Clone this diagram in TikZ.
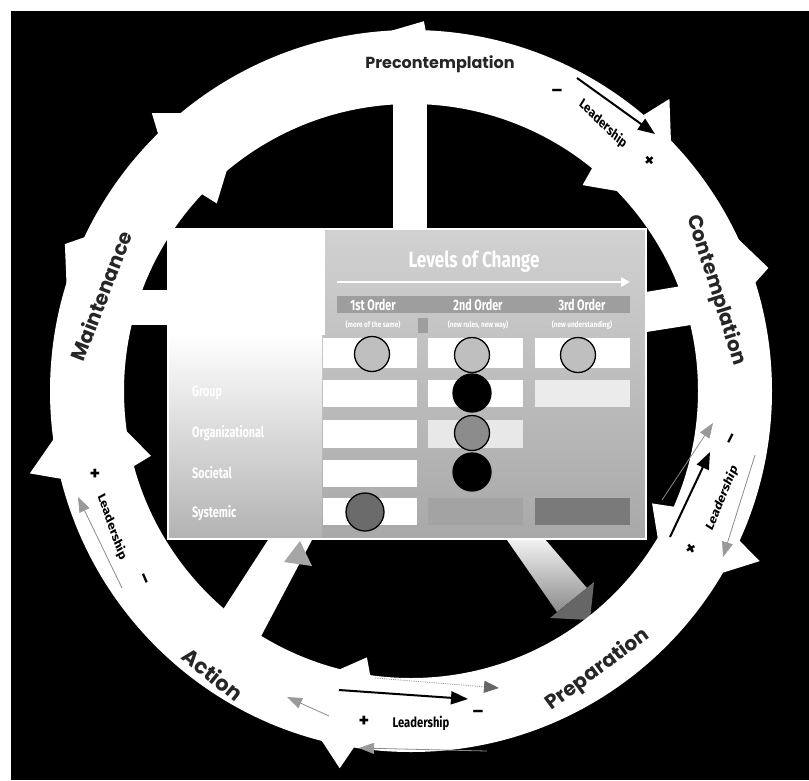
\documentclass[tikz,border=0pt]{standalone}
\usepackage{fontspec}
\setmainfont{Poppins}
\newfontfamily\condf{Fira Sans}
\usetikzlibrary{arrows.meta}
\begin{document}
\begin{tikzpicture}[x=1pt,y=-1pt,
  ringlabel/.style={font=\bfseries\fontsize{20}{20}\selectfont, text=black!85, inner sep=0pt},
  leadlabel/.style={font=\condf\bfseries\fontsize{14}{14}\selectfont, text=black, xscale=0.8, inner sep=0pt},
  sign/.style={font=\bfseries\fontsize{17}{17}\selectfont, text=black, inner sep=0pt},
  blackarrow/.style={line width=2pt, -{Triangle[length=17pt,width=13pt]}},
  grayarrow/.style={line width=0.8pt, draw=black!45, -{Triangle[length=15pt,width=11pt,color=black!40]}},
  cellbox/.style={fill=white},
  dot/.style={circle, draw=black, line width=1.3pt, minimum size=35pt, inner sep=0pt},
  tabtext/.style={font=\condf\bfseries\fontsize{15}{15}\selectfont, text=white, xscale=0.72, inner sep=0pt},
  subtext/.style={font=\condf\bfseries\fontsize{8}{8}\selectfont, text=white, xscale=0.8, inner sep=0pt},
]
% page and black field
\fill[white] (0,0) rectangle (809,780);
\fill[black] (11,11) rectangle (809,780);
\useasboundingbox (0,0) rectangle (809,780);

% spokes
\fill[white] (393,100) rectangle (427,232);
\fill[white] (110,290) rectangle (170,325);
\fill[white] (640,293) -- (705,282) -- (710,322) -- (640,333) -- cycle;
\fill[white] (215,622) -- (268,540) -- (312,540) -- (258,642) -- cycle;
\fill[black!35] (284,562) -- (300,541) -- (312,566) -- cycle;
\shade[top color=white, bottom color=black!45] (507,540) -- (537,530) -- (587,588) -- (557,612) -- cycle;
\fill[black!60] (594,582) -- (550,618) -- (590,620) -- cycle;

% ring of arrows
\begin{scope}[shift={(411,391)}, y=1pt]
  \fill[white, even odd rule] (0,0) circle (361) (0,0) circle (287);
  % arrow heads (barbs)
  \fill[white] (48.5:390) -- (36:324) -- (50.2:268) -- (52:324) -- cycle;
  \fill[white] (-26:388) -- (-38:324) -- (-25:266) -- (-22:324) -- cycle;
  \fill[white] (-100.7:384) -- (-112:324) -- (-99.4:270) -- (-96:324) -- cycle;
  \fill[white] (192.2:390) -- (180:324) -- (194:268) -- (197:324) -- cycle;
  \fill[white] (133:380) -- (121:324) -- (136:270) -- (138:324) -- cycle;
  % small outer spikes
  \fill[white] (97:356) -- (88:370) -- (87.5:356) -- cycle;
  \fill[white] (27:356) -- (19:378) -- (17:356) -- cycle;
  \fill[white] (165:356) -- (157:376) -- (154:356) -- cycle;
\end{scope}

% central table
\shade[top color=black!18, bottom color=black!34] (168,229) rectangle (646,539);
\fill[white] (169,230) rectangle (325,335);
\shade[top color=white, bottom color=black!30] (169,335) rectangle (322,538);
\draw[white, line width=1.5pt] (168,229) rectangle (646,539);
\fill[black!38] (337,296) rectangle (630,313);
\fill[black!38] (418,318) rectangle (428,333);
\node[font=\condf\bfseries\fontsize{22}{22}\selectfont, text=white, xscale=0.78] (title) at (474,262) {Levels of Change};
\coordinate (tl) at (337,282);
\coordinate (tr) at (630,282);
\draw[white, line width=2.5pt, -{Triangle[length=9pt,width=9pt]}] (tl) -- (tr);
\node[tabtext] (h1) at (373,305) {1st Order};
\node[tabtext] (h2) at (478,305) {2nd Order};
\node[tabtext] (h3) at (582,305) {3rd Order};
\node[subtext] (s1) at (373,325) {(more of the same)};
\node[subtext] (s2) at (478,325) {(new rules, new way)};
\node[subtext] (s3) at (582,325) {(new understanding)};

% cells
\fill[cellbox] (323,338) rectangle (417,368);
\fill[cellbox] (428,338) rectangle (523,368);
\fill[cellbox] (535,338) rectangle (630,368);
\fill[cellbox] (323,380) rectangle (417,407);
\fill[cellbox] (428,380) rectangle (523,407);
\fill[black!8] (535,380) rectangle (630,407);
\fill[cellbox] (323,420) rectangle (417,448);
\fill[black!9] (428,420) rectangle (523,448);
\fill[cellbox] (323,460) rectangle (417,487);
\fill[cellbox] (323,498) rectangle (417,525);
\fill[black!36] (428,498) rectangle (523,525);
\fill[black!52] (535,498) rectangle (630,525);

% row labels
\node[tabtext, anchor=west] (r2) at (192,393) {Group};
\node[tabtext, anchor=west] (r3) at (192,433) {Organizational};
\node[tabtext, anchor=west] (r4) at (192,473) {Societal};
\node[tabtext, anchor=west] (r5) at (192,513) {Systemic};

% dots
\node[dot, fill=black!25] (d11) at (372,354) {};
\node[dot, fill=black!25] (d12) at (472,355) {};
\node[dot, fill=black!25] (d13) at (578,355) {};
\node[dot, fill=black, minimum size=38pt] (d22) at (472,393) {};
\node[dot, fill=black!45] (d32) at (472,433) {};
\node[dot, fill=black, minimum size=38pt] (d42) at (472,472) {};
\node[dot, fill=black!58, minimum size=38pt] (d51) at (365,512) {};

% ring labels
\node[ringlabel, font=\bfseries\fontsize{16}{16}\selectfont] (pre) at (440,64) {Precontemplation};
\node[ringlabel, rotate=-72.5] (con) at (716,290) {Contemplation};
\node[ringlabel, rotate=36.5] (prep) at (598,670) {Preparation};
\node[ringlabel, rotate=-39, font=\bfseries\fontsize{21}{21}\selectfont] (act) at (213,674) {Action};
\node[ringlabel, rotate=69] (mai) at (101,296) {Maintenance};

% leadership: top right
\node[sign] (m1) at (557,93) {\textendash};
\node[leadlabel, rotate=-38] (l1) at (603,124) {Leadership};
\node[sign, rotate=40] (p1) at (650,161) {+};
\coordinate (a1s) at (577,78);
\coordinate (a1e) at (655,134);
\draw[blackarrow] (a1s) -- (a1e);

% leadership: right
\node[sign, rotate=63] (m2) at (733,440) {\textendash};
\node[leadlabel, rotate=63] (l2) at (722,498) {Leadership};
\node[sign, rotate=30] (p2) at (692,549) {+};
\coordinate (a2s) at (670,537);
\coordinate (a2e) at (710,452);
\coordinate (g2s) at (662,500);
\coordinate (g2e) at (713,423);
\coordinate (g3s) at (755,455);
\coordinate (g3e) at (723,557);
\draw[grayarrow] (g2s) -- (g2e);
\draw[blackarrow] (a2s) -- (a2e);
\draw[grayarrow] (g3s) -- (g3e);

% leadership: bottom
\node[sign] (p3) at (364,721) {+};
\node[leadlabel] (l3) at (421,723) {Leadership};
\node[sign] (m3) at (478,714) {\textendash};
\coordinate (a3s) at (339,690);
\coordinate (a3e) at (468,699);
\coordinate (g4s) at (375,678);
\coordinate (g4e) at (499,688);
\coordinate (g5s) at (329,716);
\coordinate (g5e) at (287,697);
\coordinate (g6s) at (487,751);
\coordinate (g6e) at (359,748);
\draw[grayarrow, densely dotted, -{Triangle[length=15pt,width=12pt,color=black!60]}] (g4s) -- (g4e);
\draw[blackarrow] (a3s) -- (a3e);
\draw[grayarrow] (g5s) -- (g5e);
\draw[grayarrow] (g6s) -- (g6e);

% leadership: left
\node[sign] (p4) at (95,474) {+};
\node[leadlabel, rotate=-66.6] (l4) at (112,527) {Leadership};
\node[sign, rotate=-66.6] (m4) at (143,579) {\textendash};
\coordinate (g7s) at (122,588);
\coordinate (g7e) at (78,497);
\draw[grayarrow] (g7s) -- (g7e);
\end{tikzpicture}
\end{document}
